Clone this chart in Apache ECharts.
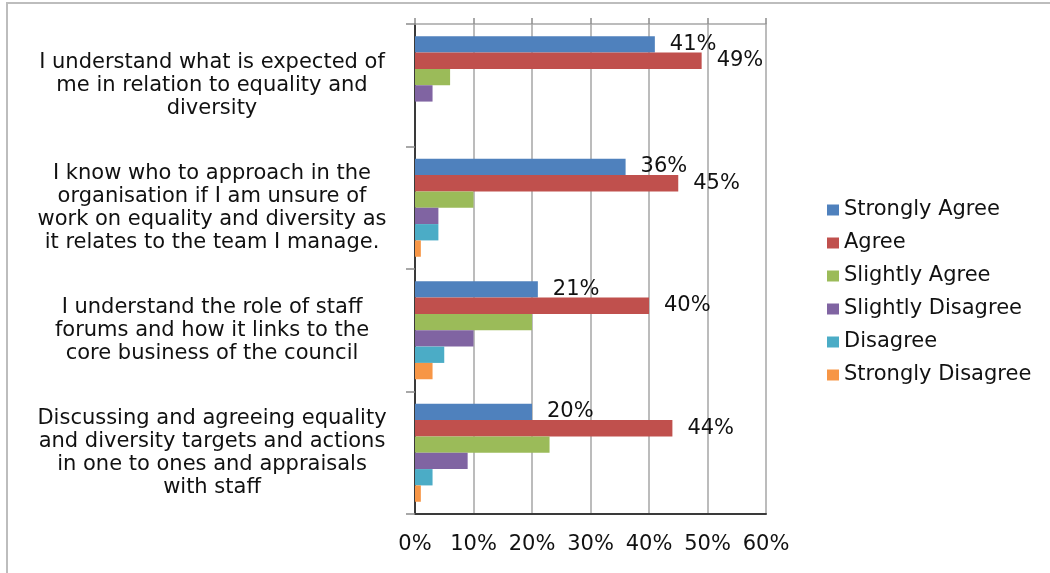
<!DOCTYPE html>
<html>
<head>
<meta charset="utf-8">
<script src="https://cdn.jsdelivr.net/npm/echarts@6/dist/echarts.min.js"></script>
<style>
  html, body { margin: 0; padding: 0; background: #fff; }
  #c { position: absolute; left: 0; top: 0; width: 1050px; height: 573px; }
  #frame { position: absolute; left: 6px; top: 2px; width: 1100px; height: 600px;
           border-left: 2px solid #bdbdbd; border-top: 2px solid #bdbdbd; pointer-events: none; }
</style>
</head>
<body>
<div id="c"></div>
<div id="frame"></div>
<script>
const categories = [
  "I understand what is expected of\nme in relation to equality and\ndiversity",
  "I know who to approach in the\norganisation if I am unsure of\nwork on equality and diversity as\nit relates to the team I manage.",
  "I understand the role of staff\nforums and how it links to the\ncore business of the council",
  "Discussing and agreeing equality\nand diversity targets and actions\nin one to ones and appraisals\nwith staff"
];
const seriesNames = ["Strongly Agree", "Agree", "Slightly Agree", "Slightly Disagree", "Disagree", "Strongly Disagree"];
const stronglyAgree    = [41, 36, 21, 20];
const agree            = [49, 45, 40, 44];
const slightlyAgree    = [6, 10, 20, 23];
const slightlyDisagree = [3, 4, 10, 9];
const disagree         = [0, 4, 5, 3];
const stronglyDisagree = [0, 1, 3, 1];
const xTicks = [0, 10, 20, 30, 40, 50, 60];

const seriesValues = [stronglyAgree, agree, slightlyAgree, slightlyDisagree, disagree, stronglyDisagree];
const colors = ["#4F81BD", "#C0504D", "#9BBB59", "#8064A2", "#4BACC6", "#F79646"];
const labelled = [true, true, false, false, false, false];

const FONT = "'DejaVu Sans', 'Liberation Sans', Arial, sans-serif";
const TXT = '#111111';
const chart = echarts.init(document.getElementById('c'), null, { renderer: 'canvas' });

const xMin = xTicks[0], xMax = xTicks[xTicks.length - 1], xInt = xTicks[1] - xTicks[0];

chart.setOption({
  animation: false,
  backgroundColor: '#ffffff',
  color: colors,
  textStyle: { fontFamily: FONT },
  grid: { left: 415, right: 284, top: 24, bottom: 59, containLabel: false },
  legend: {
    orient: 'vertical',
    left: 822,
    top: 194,
    itemWidth: 12,
    itemHeight: 11,
    itemGap: 11,
    icon: 'rect',
    textStyle: { fontFamily: FONT, fontSize: 21, color: TXT, lineHeight: 22 },
    data: seriesNames
  },
  xAxis: [
    {
      type: 'value', position: 'top', min: xMin, max: xMax, interval: xInt,
      axisLine: { show: true, lineStyle: { color: '#a6a6a6', width: 1.5 } },
      axisTick: { show: true, length: 6, lineStyle: { color: '#8c8c8c', width: 1.5 } },
      axisLabel: { show: false },
      splitLine: { show: true, lineStyle: { color: '#a6a6a6', width: 1.5 } }
    },
    {
      type: 'value', position: 'bottom', min: xMin, max: xMax, interval: xInt,
      axisLine: { show: true, lineStyle: { color: '#3a3a3a', width: 2 } },
      axisTick: { show: false },
      axisLabel: { show: true, margin: 20, fontFamily: FONT, fontSize: 21, color: TXT, formatter: '{value}%' },
      splitLine: { show: false }
    }
  ],
  yAxis: [
    {
      type: 'category', data: categories, inverse: true, position: 'left',
      axisLine: { show: true, lineStyle: { color: '#8c8c8c', width: 1.5 } },
      axisTick: { show: true, length: 9, lineStyle: { color: '#8c8c8c', width: 1.5 } },
      axisLabel: { show: true, align: 'center', margin: 203, fontFamily: FONT, fontSize: 21,
                   lineHeight: 23, color: TXT },
      splitLine: { show: false }
    },
    {
      type: 'category', data: categories, inverse: true, position: 'right',
      axisLine: { show: true, lineStyle: { color: '#3a3a3a', width: 2 } },
      axisTick: { show: false },
      axisLabel: { show: false },
      splitLine: { show: false }
    }
  ],
  series: seriesNames.map((name, i) => ({
    name: name,
    type: 'bar',
    xAxisIndex: 0,
    yAxisIndex: 0,
    data: seriesValues[i],
    barGap: '0%',
    barCategoryGap: '20%',
    itemStyle: { color: colors[i] },
    label: {
      show: labelled[i],
      position: 'right',
      distance: 15,
      fontFamily: FONT,
      fontSize: 21,
      color: TXT,
      formatter: '{c}%'
    }
  }))
});
</script>
</body>
</html>
